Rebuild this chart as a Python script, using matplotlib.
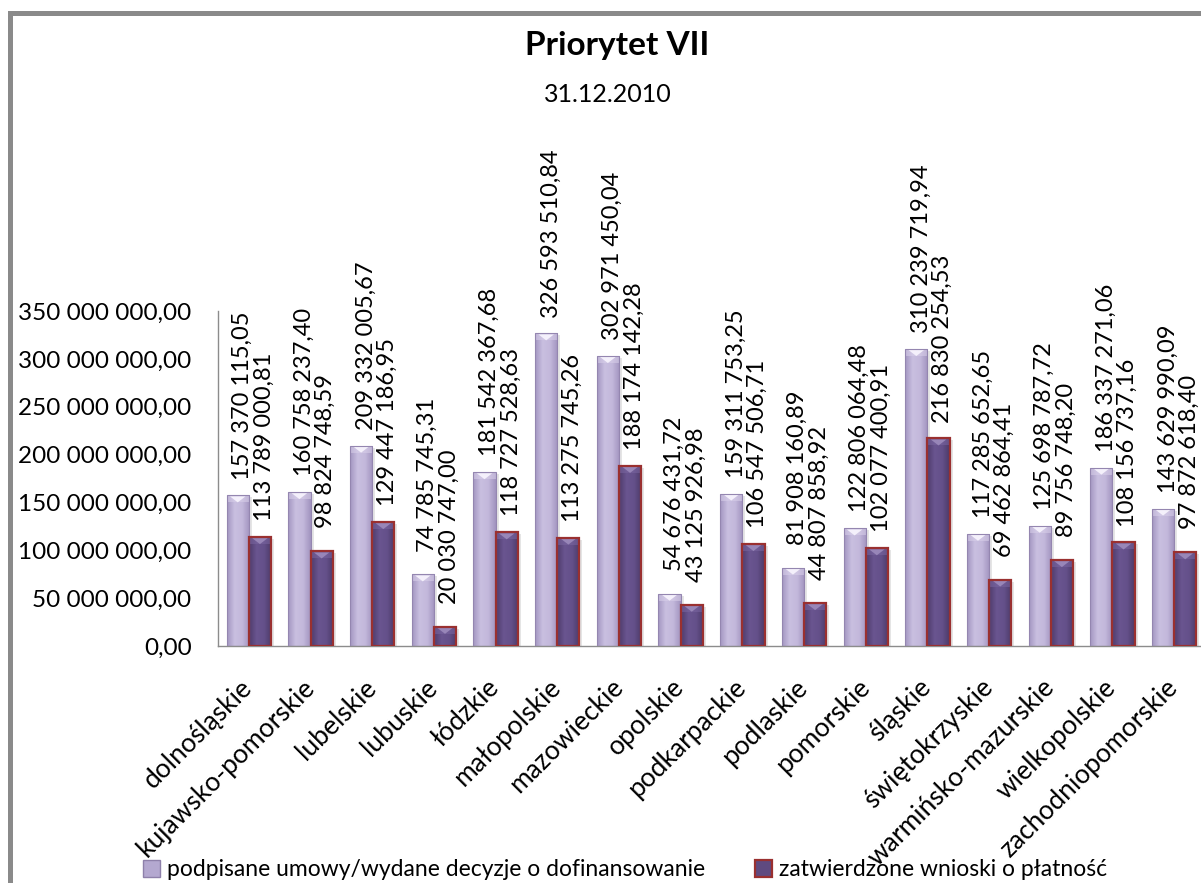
import matplotlib
matplotlib.use("Agg")
import matplotlib.pyplot as plt
import numpy as np
from matplotlib.patches import Rectangle, Polygon, Patch
from matplotlib.colors import LinearSegmentedColormap

plt.rcParams['font.family'] = ['Lato', 'DejaVu Sans']

title = "Priorytet VII"
subtitle = "31.12.2010"
regions = ["dolnośląskie", "kujawsko-pomorskie", "lubelskie", "lubuskie", "łódzkie",
           "małopolskie", "mazowieckie", "opolskie", "podkarpackie", "podlaskie",
           "pomorskie", "śląskie", "świętokrzyskie", "warmińsko-mazurskie",
           "wielkopolskie", "zachodniopomorskie"]
series_names = ["podpisane umowy/wydane decyzje o dofinansowanie",
                "zatwierdzone wnioski o płatność"]
podpisane = [157370115.05, 160758237.40, 209332005.67, 74785745.31, 181542367.68,
             326593510.84, 302971450.04, 54676431.72, 159311753.25, 81908160.89,
             122806064.48, 310239719.94, 117285652.65, 125698787.72, 186337271.06,
             143629990.09]
zatwierdzone = [113789000.81, 98824748.59, 129447186.95, 20030747.00, 118727528.63,
                113275745.26, 188174142.28, 43125926.98, 106547506.71, 44807858.92,
                102077400.91, 216830254.53, 69462864.41, 89756748.20, 108156737.16,
                97872618.40]
y_ticks = [0, 50e6, 100e6, 150e6, 200e6, 250e6, 300e6, 350e6]


def fmt(v):
    return f"{v:,.2f}".replace(",", " ").replace(".", ",")


W, H = 1201, 883
fig = plt.figure(figsize=(W / 100, H / 100), dpi=100)
ax = fig.add_axes([218 / W, 1 - 646 / H, 987 / W, 335 / H])
ax.set_xlim(-0.5, len(regions) - 0.5)
ax.set_ylim(0, 350e6)

# chart-area border (cropped on right and bottom)
fig.add_artist(Rectangle((9.5 / W, -0.1), 2.0, 1 - 12.5 / H + 0.1, transform=fig.transFigure,
                         fill=False, edgecolor="#8a8a8a", linewidth=3.6, zorder=0))

bw = 0.36
x = np.arange(len(regions))

light_cmap = LinearSegmentedColormap.from_list("l", ["#a396c1", "#c9bfe0", "#c3b8db", "#a193bf"])
dark_cmap = LinearSegmentedColormap.from_list("d", ["#4f3c6c", "#6a5590", "#64508a", "#4c3a68"])
grad = np.linspace(0, 1, 64).reshape(1, -1)

fig.canvas.draw()
px_per_y = (ax.transData.transform((0, 1e6))[1] - ax.transData.transform((0, 0))[1]) / 1e6
px_per_x = ax.transData.transform((1, 0))[0] - ax.transData.transform((0, 0))[0]


def draw_bar(xc, v, cmap, edge, lw, tri_color, band_color):
    x0 = xc - bw / 2
    sh = 3 / px_per_x
    ax.add_patch(Rectangle((x0 + sh, 0), bw, v - 2 / px_per_y, facecolor="#000000",
                           alpha=0.10, edgecolor="none", zorder=1))
    rect = Rectangle((x0, 0), bw, v, facecolor="none", edgecolor=edge, linewidth=lw, zorder=3)
    ax.add_patch(rect)
    im = ax.imshow(grad, cmap=cmap, aspect="auto", extent=(x0, x0 + bw, 0, v), zorder=2)
    im.set_clip_path(rect)
    bh = 7 / px_per_y
    ax.add_patch(Rectangle((x0, v - bh), bw, bh, facecolor=band_color, edgecolor="none",
                           alpha=0.55, zorder=2.5))
    ax.add_patch(Polygon([(x0 + bw * 0.15, v - 1 / px_per_y), (x0 + bw * 0.85, v - 1 / px_per_y),
                          (xc, v - bh)], closed=True, facecolor=tri_color, edgecolor="none",
                         zorder=2.6))


for i in range(len(regions)):
    draw_bar(x[i] - bw / 2, podpisane[i], light_cmap, "#9486b0", 0.8, "#f4f0fb", "#d9d0ea")
    draw_bar(x[i] + bw / 2, zatwierdzone[i], dark_cmap, "#9a3030", 1.6, "#9886b8", "#7a66a0")

for i in range(len(regions)):
    ax.annotate(fmt(podpisane[i]), (x[i] - bw / 2, podpisane[i]), xytext=(3.5, 72),
                textcoords="offset points", rotation=90, ha="center", va="center",
                fontsize=17, color="#000000", zorder=5, annotation_clip=False)
    ax.annotate(fmt(zatwierdzone[i]), (x[i] + bw / 2, zatwierdzone[i]), xytext=(3, 72),
                textcoords="offset points", rotation=90, ha="center", va="center",
                fontsize=17, color="#000000", zorder=5, annotation_clip=False)

ax.set_yticks(y_ticks)
ax.set_yticklabels([fmt(v) for v in y_ticks], fontsize=17.5)
ax.tick_params(axis="y", length=0, pad=19)
ax.set_xticks(x)
ax.set_xticklabels(regions, rotation=45, ha="right", va="center", rotation_mode="anchor",
                   fontsize=19)
ax.tick_params(axis="x", length=0, pad=27)

for s in ["top", "right"]:
    ax.spines[s].set_visible(False)
for s in ["left", "bottom"]:
    ax.spines[s].set_color("#8c8c8c")
    ax.spines[s].set_linewidth(1.0)
ax.set_facecolor("none")

fig.text(617 / W, 1 - 45 / H, title, ha="center", va="center", fontsize=24, fontweight="bold")
fig.text(608 / W, 1 - 95 / H, subtitle, ha="center", va="center", fontsize=18)

handles = [Patch(facecolor="#b4a8d0", edgecolor="#8e80aa", linewidth=1.0),
           Patch(facecolor="#5f4a80", edgecolor="#9a3030", linewidth=1.6)]
fig.legend(handles, series_names, loc="center", bbox_to_anchor=(625 / W, 1 - 870 / H),
           ncol=2, frameon=False, fontsize=16.5, handlelength=0.75, handleheight=0.75,
           handletextpad=0.3, columnspacing=2.2)

fig.savefig("out.png", dpi=100)
